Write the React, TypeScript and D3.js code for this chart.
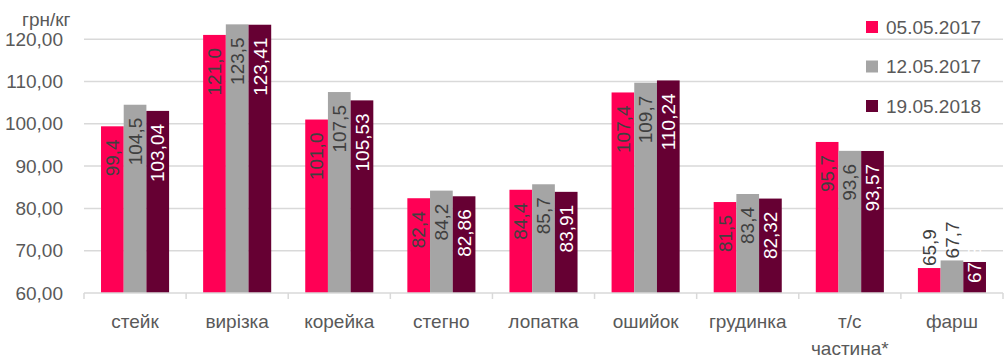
import React from "react";
import * as d3 from "d3";

const categories: string[][] = [
  ["стейк"], ["вирізка"], ["корейка"], ["стегно"], ["лопатка"],
  ["ошийок"], ["грудинка"], ["т/с", "частина*"], ["фарш"],
];
const seriesNames = ["05.05.2017", "12.05.2017", "19.05.2018"];
const s1 = [99.4, 121.0, 101.0, 82.4, 84.4, 107.4, 81.5, 95.7, 65.9];
const s2 = [104.5, 123.5, 107.5, 84.2, 85.7, 109.7, 83.4, 93.6, 67.7];
const s3 = [103.04, 123.41, 105.53, 82.86, 83.91, 110.24, 82.32, 93.57, 67.33];
const seriesDecimals = [1, 1, 2];
const yTicks = [60, 70, 80, 90, 100, 110, 120];
const yUnit = "грн/кг";

const colors = ["#FF0055", "#A5A5A5", "#660033"];
const labelColors = ["#404040", "#404040", "#FFFFFF"];
const FONT = "'Liberation Sans', Arial, sans-serif";
const TXT = "#595959";

export default function App() {
  const W = 1004, H = 364;
  const left = 84, right = 1003, top = 18, bottom = 293;
  const series = [s1, s2, s3];
  const idx = categories.map((_, i) => i);
  const x0 = d3.scaleBand<number>().domain(idx).range([left, right]).paddingInner(1 / 3).paddingOuter(1 / 6);
  const x1 = d3.scaleBand<number>().domain([0, 1, 2]).range([0, x0.bandwidth()]);
  const y = d3.scaleLinear().domain([60, 125]).range([bottom, top]);
  const step = x0.step();
  const fs = 19;
  const fmt = (v: number, d: number) => v.toFixed(d).replace(".", ",");

  return (
    <svg width={W} height={H} style={{ position: "absolute", left: 0, top: 0, background: "#fff" }} fontFamily={FONT}>
      {yTicks.slice(1).map((t) => (
        <line key={t} x1={left} x2={right} y1={y(t)} y2={y(t)} stroke="#D9D9D9" strokeWidth={1.5} />
      ))}
      {yTicks.map((t) => (
        <text key={"l" + t} x={63} y={y(t)} dy="0.35em" textAnchor="end" fontSize={fs} fill={TXT}>
          {t.toFixed(2).replace(".", ",")}
        </text>
      ))}
      <text x={22} y={26} fontSize={fs} fill={TXT}>{yUnit}</text>
      {series.map((vals, si) =>
        vals.map((v, ci) => {
          const bx = (x0(ci) as number) + (x1(si) as number);
          const bw = x1.bandwidth();
          const by = y(v);
          return (
            <rect key={si + "-" + ci} x={bx} y={by} width={bw} height={bottom - by} fill={colors[si]} />
          );
        })
      )}
      {series.map((vals, si) =>
        vals.map((v, ci) => {
          const bx = (x0(ci) as number) + (x1(si) as number);
          const bw = x1.bandwidth();
          const by = y(v);
          const label = fmt(v, seriesDecimals[si]);
          const tlen = label.length * 0.53 * fs;
          const barH = bottom - by;
          const cx = bx + bw / 2;
          let pos: number, anchor: string, fill: string;
          if (barH >= tlen + 16) {
            pos = by + 13; anchor = "end"; fill = labelColors[si];
          } else if (si === 2) {
            pos = bottom - 10; anchor = "start"; fill = labelColors[si];
          } else {
            pos = by - 2; anchor = "start"; fill = "#404040";
          }
          return (
            <text key={"t" + si + "-" + ci} transform={`translate(${cx},${pos}) rotate(-90)`}
              textAnchor={anchor} dy="0.35em" fontSize={fs} fill={fill}>
              {label}
            </text>
          );
        })
      )}
      <line x1={left} x2={right} y1={bottom} y2={bottom} stroke="#D9D9D9" strokeWidth={1.5} />
      {d3.range(categories.length + 1).map((i) => (
        <line key={"tk" + i} x1={left + i * step} x2={left + i * step} y1={bottom} y2={bottom + 6} stroke="#D9D9D9" strokeWidth={1.5} />
      ))}
      {categories.map((lines, ci) => (
        <text key={"c" + ci} x={(x0(ci) as number) + x0.bandwidth() / 2} y={328} textAnchor="middle" fontSize={fs} fill={TXT}>
          {lines.map((ln, li) => (
            <tspan key={li} x={(x0(ci) as number) + x0.bandwidth() / 2} dy={li === 0 ? 0 : 27}>{ln}</tspan>
          ))}
        </text>
      ))}
      {seriesNames.map((n, si) => {
        const cy = 27 + si * 39.5;
        return (
          <g key={n}>
            <rect x={866} y={cy - 6} width={12} height={12} fill={colors[si]} />
            <text x={886} y={cy} dy="0.35em" fontSize={fs} fill={TXT}>{n}</text>
          </g>
        );
      })}
    </svg>
  );
}
